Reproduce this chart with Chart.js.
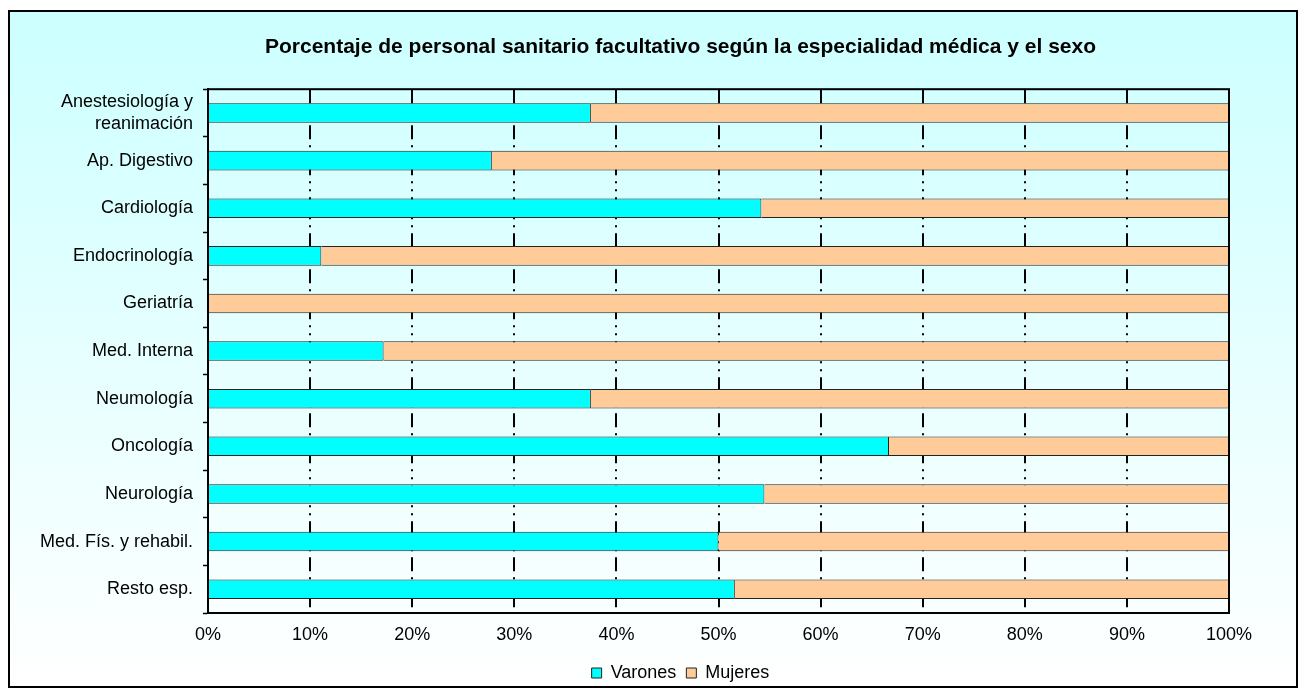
<!DOCTYPE html>
<html>
<head>
<meta charset="utf-8">
<script src="https://cdn.jsdelivr.net/npm/chart.js@4"></script>
<style>
  html, body { margin: 0; padding: 0; background: #fff; }
  #chart { display: block; }
</style>
</head>
<body>
<canvas id="chart" width="1307" height="697"></canvas>
<script>
// Chart data (percentages)
const categories = [
  ['Anestesiología y', 'reanimación'],
  'Ap. Digestivo',
  'Cardiología',
  'Endocrinología',
  'Geriatría',
  'Med. Interna',
  'Neumología',
  'Oncología',
  'Neurología',
  'Med. Fís. y rehabil.',
  'Resto esp.'
];
const varones = [37.5, 27.8, 54.2, 11.1, 0, 17.2, 37.5, 66.7, 54.5, 50.0, 51.6];
const mujeres = [62.5, 72.2, 45.8, 88.9, 100, 82.8, 62.5, 33.3, 45.5, 50.0, 48.4];
const xTicks = [0, 10, 20, 30, 40, 50, 60, 70, 80, 90, 100];

Chart.defaults.font.family = '"Liberation Sans", Arial, sans-serif';
Chart.defaults.font.size = 18;
Chart.defaults.color = '#000';

// Frame with the pale cyan gradient behind everything
const framePlugin = {
  id: 'frame',
  beforeDraw(chart) {
    const ctx = chart.ctx;
    ctx.save();
    ctx.fillStyle = '#fff';
    ctx.fillRect(0, 0, chart.width, chart.height);
    const grad = ctx.createLinearGradient(0, 11, 0, 687);
    grad.addColorStop(0, '#CCFFFF');
    grad.addColorStop(1, '#FFFFFF');
    ctx.fillStyle = grad;
    ctx.fillRect(9, 11, 1288, 676);
    ctx.lineWidth = 2;
    ctx.strokeStyle = '#000';
    ctx.strokeRect(9, 11, 1288, 676);
    ctx.restore();
  },
  afterDraw(chart) {
    // box round the plot area
    const a = chart.chartArea;
    const ctx = chart.ctx;
    ctx.save();
    ctx.lineWidth = 2;
    ctx.strokeStyle = '#000';
    ctx.strokeRect(a.left, a.top, a.right - a.left, a.bottom - a.top);
    ctx.restore();
  }
};

// left edge of plot 208, right edge 1229; title/legend centred near x=680
const padLeft = 9;
const padRight = -45;

new Chart(document.getElementById('chart'), {
  type: 'bar',
  data: {
    labels: categories,
    datasets: [
      {
        label: 'Varones',
        data: varones,
        xAxisID: 'x',
        yAxisID: 'y',
        backgroundColor: '#00FFFF',
        borderColor: '#222',
        borderWidth: 1
      },
      {
        label: 'Mujeres',
        data: mujeres,
        xAxisID: 'x',
        yAxisID: 'y',
        backgroundColor: '#FFCC99',
        borderColor: '#222',
        borderWidth: 1
      }
    ]
  },
  options: {
    indexAxis: 'y',
    responsive: false,
    animation: false,
    datasets: {
      bar: { categoryPercentage: 1, barPercentage: 0.41 }
    },
    layout: {
      padding: { left: padLeft, right: padRight, top: 11, bottom: 5 }
    },
    plugins: {
      title: {
        display: true,
        text: 'Porcentaje de personal sanitario facultativo según la especialidad médica y el sexo',
        font: { size: 21, weight: 'bold' },
        padding: { top: 24, bottom: 29 }
      },
      legend: {
        position: 'bottom',
        labels: {
          boxWidth: 10,
          boxHeight: 10,
          padding: 10,
          font: { size: 18 },
          generateLabels(chart) {
            return chart.data.datasets.map((ds, i) => ({
              text: ds.label,
              fillStyle: ds.backgroundColor,
              strokeStyle: '#222',
              lineWidth: 1,
              datasetIndex: i
            }));
          }
        }
      },
      tooltip: { enabled: false }
    },
    scales: {
      x: {
        stacked: true,
        min: 0,
        max: 100,
        afterBuildTicks(scale) {
          scale.ticks = xTicks.map(v => ({ value: v }));
        },
        afterFit(scale) {
          scale.height = 41;
        },
        ticks: {
          padding: 11,
          maxRotation: 0,
          callback: v => v + '%'
        },
        grid: {
          color: '#000',
          lineWidth: 2,
          drawTicks: false
        },
        border: {
          display: true,
          color: '#000',
          width: 2,
          dash: [14, 6, 2, 6, 2, 6]
        }
      },
      y: {
        stacked: true,
        afterFit(scale) {
          scale.width = 208 - padLeft;
        },
        ticks: {
          padding: 10
        },
        grid: {
          offset: true,
          drawOnChartArea: false,
          drawTicks: true,
          tickLength: 5,
          tickColor: '#000',
          tickWidth: 1.5
        },
        border: {
          display: true,
          color: '#000',
          width: 2
        }
      },
      // empty spacer on the right so the plot ends at x=1229
      yRight: {
        axis: 'y',
        type: 'linear',
        position: 'right',
        afterFit(scale) {
          scale.width = 1307 - padRight - 1229;
        },
        ticks: { display: false },
        grid: { display: false },
        border: { display: false }
      }
    }
  },
  plugins: [framePlugin]
});
</script>
</body>
</html>
